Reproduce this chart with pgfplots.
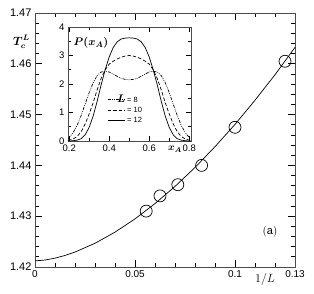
\documentclass[border=0pt]{standalone}
\usepackage{pgfplots}
\pgfplotsset{compat=1.18}
\usepackage{amsmath}
\usepackage{fontspec}
\setmainfont{Liberation Sans}
\begin{document}
\begin{tikzpicture}
\begin{axis}[name=main, scale only axis, width=260pt, height=254pt,
  xmin=0, xmax=0.13, ymin=1.42, ymax=1.47,
  xtick={0,0.05,0.1}, xticklabels={0,0.05,0.1},
  minor xtick={0.01,0.02,0.03,0.04,0.06,0.07,0.08,0.09,0.11,0.12},
  ytick={1.42,1.43,1.44,1.45,1.46,1.47}, yticklabels={1.42,1.43,1.44,1.45,1.46,1.47},
  minor y tick num=4,
  extra x ticks={0.13}, extra x tick labels={0.13}, extra x tick style={major tick length=0pt},
  tick align=inside, major tick length=7pt, minor tick length=4pt,
  tick style={black, line width=0.8pt},
  x tick label style={font=\fontsize{10}{12}\selectfont},
  y tick label style={font=\fontsize{11}{13}\selectfont},
  axis line style={line width=0.8pt, black!70},
  xlabel={$1/L$}, xlabel style={at={(axis description cs:0.885,0)}, anchor=north, yshift=-3pt, font=\fontsize{12}{14}\selectfont},
  clip=false]
\addplot[black, line width=0.7pt] coordinates {
(0,1.4212) (0.005,1.42137) (0.01,1.42174) (0.015,1.42227) (0.02,1.42294) (0.03,1.42467) (0.04,1.42686) (0.05,1.42947) (0.06,1.43248) (0.07,1.43586) (0.08,1.43959) (0.09,1.44368) (0.10,1.44807) (0.11,1.45283) (0.12,1.45785) (0.13,1.46323)};
\addplot[only marks, mark=o, mark size=6pt, black, mark options={line width=0.7pt}] coordinates {
(0.0556,1.4310) (0.0625,1.4340) (0.0714,1.4362) (0.0833,1.4400) (0.1,1.4475) (0.125,1.4605)};
\node[anchor=center, inner sep=0pt, font=\fontsize{12}{14}\selectfont] at (axis description cs:-0.052,0.885) {$\boldsymbol{T_c^L}$};
\node[anchor=center, font=\fontsize{11}{13}\selectfont] at (axis cs:0.1175,1.4269) {$(\mathrm{a})$};
\end{axis}
\path (main.south west) ++(-35pt,-27pt) rectangle ++(314pt,294pt);
\begin{axis}[at={(main.south west)}, anchor=south west, xshift=33pt, yshift=126pt,
  scale only axis, width=123pt, height=114pt,
  xmin=0.194, xmax=0.809, ymin=0, ymax=4,
  xtick={0.2,0.4,0.6,0.8}, xticklabels={0.2,0.4,0.6,0.8},
  ytick={0,1,2,3,4}, yticklabels={0,1,2,3,4},
  minor x tick num=1, minor y tick num=1,
  tick align=inside, major tick length=5pt, minor tick length=3pt,
  tick style={black, line width=0.8pt},
  axis line style={line width=0.8pt, black!70},
  tick label style={font=\fontsize{9.5}{11}\selectfont},
  xlabel={$\boldsymbol{x_A}$}, xlabel style={at={(axis description cs:0.87,0)}, anchor=north, yshift=-2pt, font=\fontsize{10}{12}\selectfont},
  axis background/.style={fill=white},
  legend style={draw=none, fill=none, at={(axis cs:0.385,1.72)}, anchor=north west, font=\fontsize{7.5}{9}\selectfont, row sep=-1pt, inner sep=1pt},
  legend cell align=left,
  legend image post style={line width=0.7pt},
  every axis legend/.append style={/tikz/every even column/.append style={column sep=1pt}},
  clip=false]
\addplot[black, line width=0.7pt, dash pattern=on 3pt off 1.2pt on 0.8pt off 1.2pt on 0.8pt off 1.2pt] coordinates {
(0.194,0.09) (0.2,0.12) (0.22,0.3) (0.24,0.55) (0.26,0.9) (0.28,1.3) (0.30,1.7) (0.32,2.05) (0.34,2.3) (0.36,2.42) (0.38,2.45) (0.40,2.42) (0.42,2.35) (0.44,2.27) (0.46,2.2) (0.48,2.16) (0.5,2.15)
(0.52,2.16) (0.54,2.2) (0.56,2.27) (0.58,2.35) (0.60,2.42) (0.62,2.45) (0.64,2.42) (0.66,2.3) (0.68,2.05) (0.70,1.7) (0.72,1.3) (0.74,0.9) (0.76,0.55) (0.78,0.3) (0.8,0.12) (0.809,0.07)};
\addplot[black, line width=0.7pt, dash pattern=on 3.5pt off 2pt] coordinates {
(0.194,0.02) (0.2,0.03) (0.22,0.07) (0.24,0.16) (0.26,0.33) (0.28,0.6) (0.30,0.95) (0.32,1.35) (0.34,1.8) (0.36,2.2) (0.38,2.5) (0.40,2.7) (0.42,2.8) (0.44,2.88) (0.46,2.94) (0.48,2.98) (0.5,3.0)
(0.52,2.98) (0.54,2.94) (0.56,2.88) (0.58,2.8) (0.60,2.7) (0.62,2.5) (0.64,2.2) (0.66,1.8) (0.68,1.35) (0.70,0.95) (0.72,0.6) (0.74,0.33) (0.76,0.16) (0.78,0.07) (0.8,0.03) (0.809,0.02)};
\addplot[black, line width=0.7pt] coordinates {
(0.194,0.0) (0.2,0.0) (0.22,0.01) (0.24,0.03) (0.26,0.08) (0.28,0.22) (0.30,0.48) (0.32,0.88) (0.34,1.4) (0.36,1.98) (0.38,2.5) (0.40,2.95) (0.42,3.28) (0.44,3.48) (0.46,3.58) (0.48,3.61) (0.5,3.62)
(0.52,3.61) (0.54,3.58) (0.56,3.48) (0.58,3.28) (0.60,2.95) (0.62,2.5) (0.64,1.98) (0.66,1.4) (0.68,0.88) (0.70,0.48) (0.72,0.22) (0.74,0.08) (0.76,0.03) (0.78,0.01) (0.8,0.0) (0.809,0.0)};
\legend{\llap{\fontsize{11}{12}\selectfont$\boldsymbol{L}$\,}= 8, = 10, = 12}
\node[anchor=west, font=\fontsize{11}{13}\selectfont] at (axis cs:0.205,3.44) {$\boldsymbol{P(x_A)}$};
\end{axis}
\end{tikzpicture}
\end{document}
